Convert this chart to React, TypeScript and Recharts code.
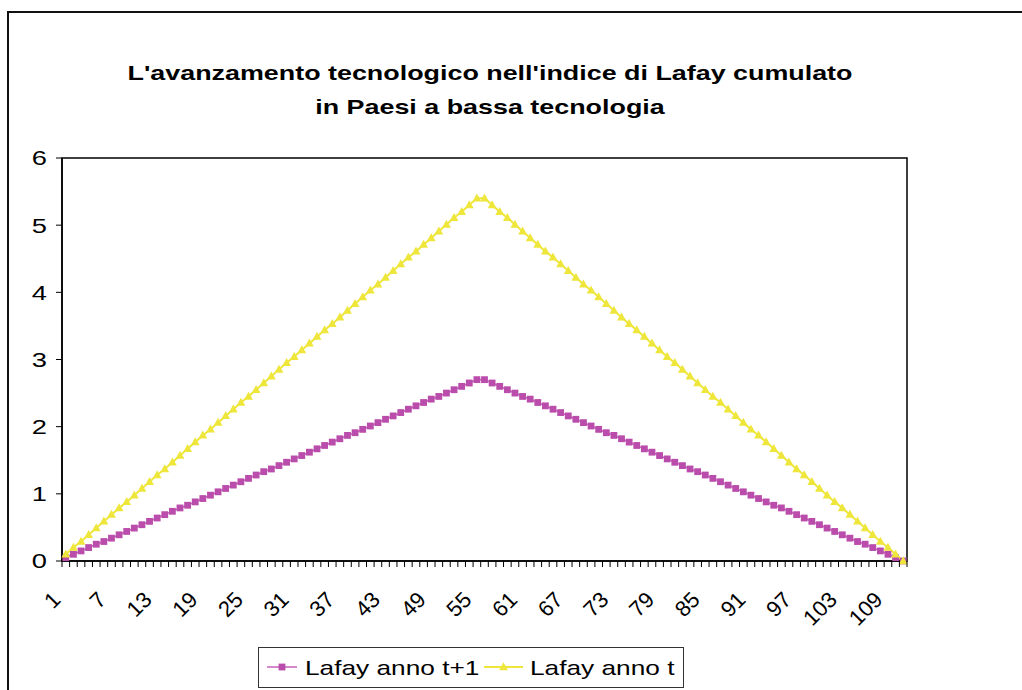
import React from "react";
import { LineChart, Line, XAxis, YAxis, ReferenceArea } from "recharts";

// ---- data ----
const categories: number[] = Array.from({ length: 111 }, (_, i) => i + 1);
const tickLabels: number[] = [1, 7, 13, 19, 25, 31, 37, 43, 49, 55, 61, 67, 73, 79, 85, 91, 97, 103, 109];
const yTicks: number[] = [0, 1, 2, 3, 4, 5, 6];

const lafayT1: number[] = [
  0.05, 0.10, 0.15, 0.20, 0.25, 0.29, 0.34, 0.39, 0.44, 0.49,
  0.54, 0.59, 0.64, 0.69, 0.74, 0.79, 0.83, 0.88, 0.93, 0.98,
  1.03, 1.08, 1.13, 1.18, 1.23, 1.28, 1.33, 1.37, 1.42, 1.47,
  1.52, 1.57, 1.62, 1.67, 1.72, 1.77, 1.82, 1.87, 1.91, 1.96,
  2.01, 2.06, 2.11, 2.16, 2.21, 2.26, 2.31, 2.36, 2.41, 2.45,
  2.50, 2.55, 2.60, 2.65, 2.70,
  2.70, 2.65, 2.60, 2.55, 2.50,
  2.45, 2.41, 2.36, 2.31, 2.26, 2.21, 2.16, 2.11, 2.06, 2.01,
  1.96, 1.91, 1.87, 1.82, 1.77, 1.72, 1.67, 1.62, 1.57, 1.52,
  1.47, 1.42, 1.37, 1.33, 1.28, 1.23, 1.18, 1.13, 1.08, 1.03,
  0.98, 0.93, 0.88, 0.83, 0.79, 0.74, 0.69, 0.64, 0.59, 0.54,
  0.49, 0.44, 0.39, 0.34, 0.29, 0.25, 0.20, 0.15, 0.10, 0.05,
  0.00,
];

const lafayT: number[] = [
  0.10, 0.20, 0.29, 0.39, 0.49, 0.59, 0.69, 0.79, 0.88, 0.98,
  1.08, 1.18, 1.28, 1.37, 1.47, 1.57, 1.67, 1.77, 1.87, 1.96,
  2.06, 2.16, 2.26, 2.36, 2.45, 2.55, 2.65, 2.75, 2.85, 2.95,
  3.04, 3.14, 3.24, 3.34, 3.44, 3.53, 3.63, 3.73, 3.83, 3.93,
  4.03, 4.12, 4.22, 4.32, 4.42, 4.52, 4.61, 4.71, 4.81, 4.91,
  5.01, 5.11, 5.20, 5.30, 5.40,
  5.40, 5.30, 5.20, 5.11, 5.01,
  4.91, 4.81, 4.71, 4.61, 4.52, 4.42, 4.32, 4.22, 4.12, 4.03,
  3.93, 3.83, 3.73, 3.63, 3.53, 3.44, 3.34, 3.24, 3.14, 3.04,
  2.95, 2.85, 2.75, 2.65, 2.55, 2.45, 2.36, 2.26, 2.16, 2.06,
  1.96, 1.87, 1.77, 1.67, 1.57, 1.47, 1.37, 1.28, 1.18, 1.08,
  0.98, 0.88, 0.79, 0.69, 0.59, 0.49, 0.39, 0.29, 0.20, 0.10,
  0.00,
];

const seriesNames = ["Lafay anno t+1", "Lafay anno t"];
const titleLines = [
  "L'avanzamento tecnologico nell'indice di Lafay cumulato",
  "in Paesi a bassa tecnologia",
];

const data = categories.map((c, i) => ({ cat: String(c), t1: lafayT1[i], t: lafayT[i] }));

// ---- styles ----
const FONT = "'Liberation Sans', Arial, sans-serif";
const PURPLE = "#BA4CAB";
const PURPLE_LINE = "#C663B9";
const YELLOW = "#EEE63A";
const STRETCH = 1.28;

const SquareDot = (props: any) => {
  const { cx, cy, index } = props;
  if (cx == null || cy == null) return <g key={`s-${index}`} />;
  return <rect key={`s-${index}`} x={cx - 3.4} y={cy - 3.4} width={6.8} height={6.8} fill={PURPLE} />;
};

const TriDot = (props: any) => {
  const { cx, cy, index } = props;
  if (cx == null || cy == null) return <g key={`t-${index}`} />;
  return (
    <polygon
      key={`t-${index}`}
      points={`${cx},${cy - 4.8} ${cx - 4.4},${cy + 3.2} ${cx + 4.4},${cy + 3.2}`}
      fill={YELLOW}
    />
  );
};

const XTick = (props: any) => {
  const { x, y, payload } = props;
  const off = payload && payload.offset ? payload.offset : 3.8;
  const val = Number(payload.value);
  const isLast = val === categories[categories.length - 1];
  return (
    <g>
      <line x1={x - off} y1={y} x2={x - off} y2={y + 6} stroke="#000" strokeWidth={1} />
      {isLast && <line x1={x + off} y1={y} x2={x + off} y2={y + 6} stroke="#000" strokeWidth={1} />}
      {tickLabels.includes(val) && (
        <text
          transform={`translate(${x - 4},${y + 40}) rotate(-45)`}
          textAnchor="end"
          fontFamily={FONT}
          fontSize={22}
          fill="#000"
        >
          {payload.value}
        </text>
      )}
    </g>
  );
};

const YTick = (props: any) => {
  const { x, y, payload } = props;
  return (
    <text
      transform={`translate(${x},${y}) scale(1.3,1)`}
      textAnchor="end"
      dy="0.35em"
      fontFamily={FONT}
      fontSize={21}
      fill="#000"
    >
      {payload.value}
    </text>
  );
};

export default function App() {
  return (
    <div>
      <div
        style={{
          position: "absolute",
          left: 7,
          top: 11,
          width: 1013,
          height: 677,
          borderLeft: "2px solid #111",
          borderTop: "2px solid #111",
        }}
      />
      <svg
        width={1022}
        height={140}
        style={{ position: "absolute", left: 0, top: 0 }}
      >
        {titleLines.map((t, i) => (
          <text
            key={i}
            transform={`translate(490,${80 + i * 34}) scale(${STRETCH},1)`}
            textAnchor="middle"
            fontFamily={FONT}
            fontWeight="bold"
            fontSize={21}
            fill="#000"
          >
            {t}
          </text>
        ))}
      </svg>
      <div style={{ position: "absolute", left: 0, top: 0 }}>
        <LineChart
          width={1022}
          height={690}
          data={data}
          margin={{ top: 158, right: 115, left: 12, bottom: 69 }}
        >
          <XAxis
            dataKey="cat"
            scale="band"
            interval={0}
            tickSize={0}
            tickMargin={0}
            tickLine={false}
            height={60}
            axisLine={{ stroke: "#000", strokeWidth: 1.5 }}
            tick={(p: any) => <XTick {...p} />}
          />
          <YAxis
            type="number"
            domain={[0, 6]}
            ticks={yTicks}
            width={50}
            tickSize={6}
            tickMargin={9}
            tickLine={{ stroke: "#000" }}
            axisLine={{ stroke: "#000", strokeWidth: 1.5 }}
            tick={(p: any) => <YTick {...p} />}
          />
          <ReferenceArea
            x1={String(categories[0])}
            x2={String(categories[categories.length - 1])}
            y1={yTicks[0]}
            y2={yTicks[yTicks.length - 1]}
            fill="none"
            fillOpacity={0}
            stroke="#000"
            strokeWidth={1.5}
            ifOverflow="visible"
          />
          <Line
            type="linear"
            dataKey="t1"
            name={seriesNames[0]}
            stroke={PURPLE_LINE}
            strokeWidth={1.5}
            dot={(p: any) => <SquareDot {...p} key={`s-${p.index}`} />}
            activeDot={false}
            isAnimationActive={false}
          />
          <Line
            type="linear"
            dataKey="t"
            name={seriesNames[1]}
            stroke={YELLOW}
            strokeWidth={2}
            dot={(p: any) => <TriDot {...p} key={`t-${p.index}`} />}
            activeDot={false}
            isAnimationActive={false}
          />
        </LineChart>
      </div>
      <svg
        width={1022}
        height={690}
        style={{ position: "absolute", left: 0, top: 0, pointerEvents: "none" }}
      >
        <rect x={258.5} y={647.5} width={425} height={40} fill="none" stroke="#333" strokeWidth={1} />
        <line x1={267} y1={667} x2={297} y2={667} stroke={PURPLE_LINE} strokeWidth={1.5} />
        <rect x={278.6} y={663.6} width={6.8} height={6.8} fill={PURPLE} />
        <text
          transform={`translate(305,675) scale(1.25,1)`}
          fontFamily={FONT}
          fontSize={21}
          fill="#000"
        >
          {seriesNames[0]}
        </text>
        <line x1={484} y1={667} x2={523} y2={667} stroke={YELLOW} strokeWidth={2} />
        <polygon points="503.5,662.2 499.1,670.2 507.9,670.2" fill={YELLOW} />
        <text
          transform={`translate(530,675) scale(1.25,1)`}
          fontFamily={FONT}
          fontSize={21}
          fill="#000"
        >
          {seriesNames[1]}
        </text>
      </svg>
    </div>
  );
}
